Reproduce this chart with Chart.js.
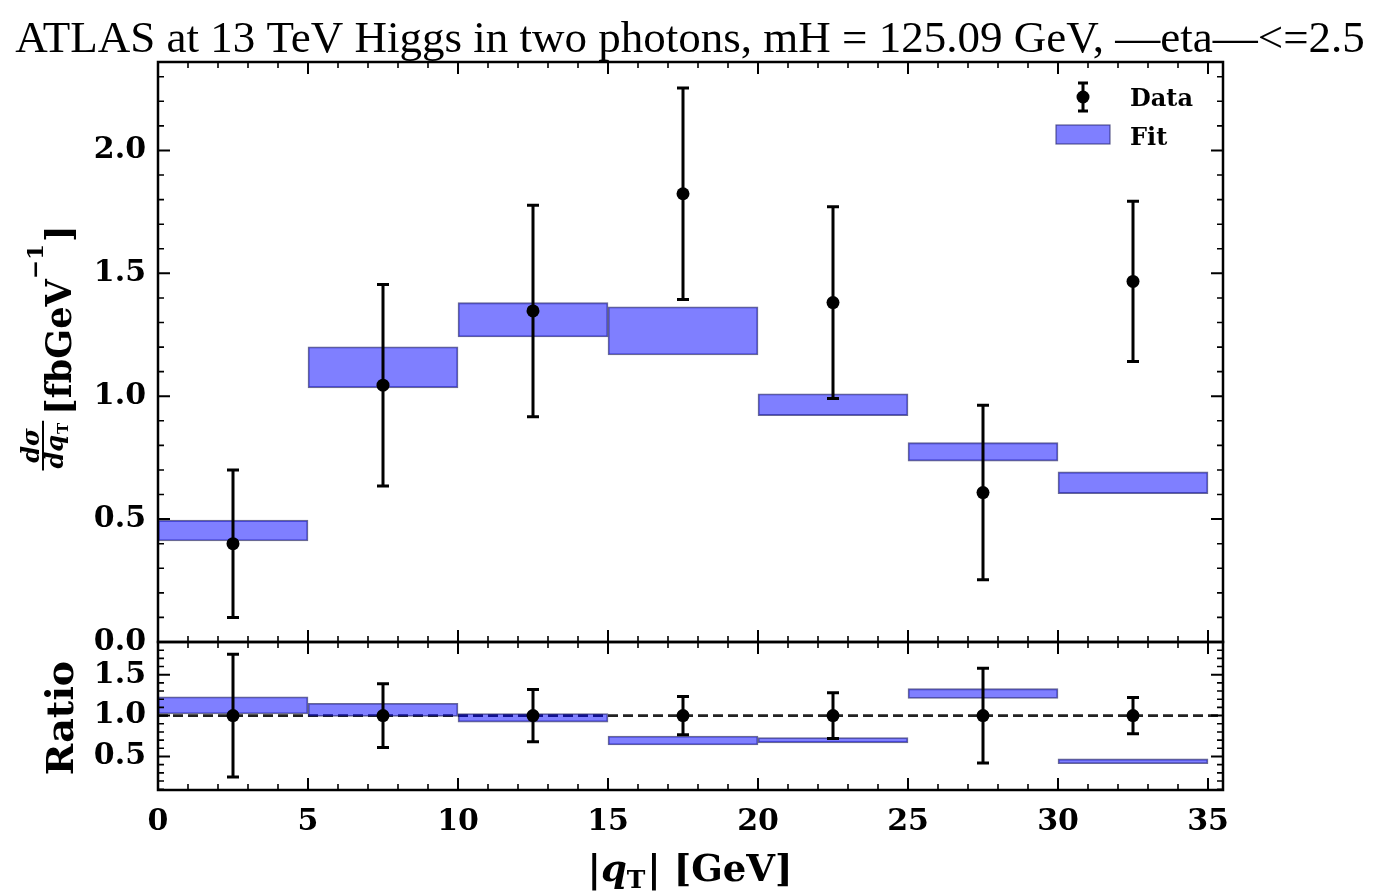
<!DOCTYPE html>
<html>
<head>
<meta charset="utf-8">
<script src="https://cdn.jsdelivr.net/npm/chart.js@4.4.1/dist/chart.umd.min.js"></script>
<style>
  html, body { margin: 0; padding: 0; background: #fff; }
  #wrap { width: 1378px; height: 893px; }
</style>
</head>
<body>
<div id="wrap"><canvas id="grafico" width="1378" height="893"></canvas></div>
<script>
// bins de q_T (GeV)
const binCenters = [2.5, 7.5, 12.5, 17.5, 22.5, 27.5, 32.5];

// dados medidos e erros
const dataValues = [0.40, 1.045, 1.347, 1.824, 1.381, 0.608, 1.467];
const dataErrors = [0.30, 0.41, 0.43, 0.43, 0.39, 0.355, 0.326];

// banda do ajuste (min / max) por bin
const fitLow  = [0.411, 1.034, 1.241, 1.168, 0.921, 0.736, 0.604];
const fitHigh = [0.496, 1.201, 1.381, 1.364, 1.010, 0.811, 0.692];

// painel de razão
const ratioValues  = [1, 1, 1, 1, 1, 1, 1];
const ratioErrors  = [0.75, 0.39, 0.32, 0.235, 0.28, 0.58, 0.222];
const ratioFitLow  = [1.02, 0.99, 0.92, 0.64, 0.667, 1.21, 0.412];
const ratioFitHigh = [1.23, 1.15, 1.025, 0.75, 0.732, 1.33, 0.471];

// ticks
const xTicks = [0, 5, 10, 15, 20, 25, 30, 35];
const yTicks = [0.0, 0.5, 1.0, 1.5, 2.0];
const ratioTicks = [0.5, 1.0, 1.5];

const fonteSerif = "'DejaVu Serif', serif";
const corBanda = 'rgba(0, 0, 255, 0.5)';
const corBorda = 'rgba(25, 25, 90, 0.65)';

function eixoY(extra, valores) {
  return Object.assign({
    type: 'linear',
    position: 'left',
    stack: 'paineis',
    grid: { display: false, drawTicks: false },
    border: { display: false },
    ticks: {
      color: '#000',
      font: { family: fonteSerif, weight: 'bold', size: 30 },
      padding: 12,
      callback: v => v.toFixed(1)
    },
    afterBuildTicks: s => { s.ticks = valores.map(v => ({ value: v })); },
    afterFit: s => { s.width = 158; }
  }, extra);
}

// barras de erro desenhadas antes dos pontos
const barrasErro = {
  id: 'barrasErro',
  beforeDatasetDraw(chart, args) {
    const ds = chart.data.datasets[args.index];
    if (!ds.erros) return;
    const ctx = chart.ctx;
    const xs = chart.scales.x;
    const ys = chart.scales[ds.yAxisID];
    ctx.save();
    ctx.strokeStyle = '#000';
    ctx.lineWidth = 3;
    ds.data.forEach((p, i) => {
      const px = xs.getPixelForValue(p.x);
      const top = ys.getPixelForValue(p.y + ds.erros[i]);
      const bot = ys.getPixelForValue(p.y - ds.erros[i]);
      ctx.beginPath();
      ctx.moveTo(px, top); ctx.lineTo(px, bot);
      ctx.moveTo(px - 6, top); ctx.lineTo(px + 6, top);
      ctx.moveTo(px - 6, bot); ctx.lineTo(px + 6, bot);
      ctx.stroke();
    });
    ctx.restore();
  }
};

// linha tracejada em 1 no painel de razão
const linhaUm = {
  id: 'linhaUm',
  beforeDatasetsDraw(chart) {
    const ctx = chart.ctx, a = chart.chartArea;
    const py = chart.scales.yRatio.getPixelForValue(1);
    ctx.save();
    ctx.strokeStyle = '#222';
    ctx.lineWidth = 2.6;
    ctx.setLineDash([10, 5]);
    ctx.beginPath();
    ctx.moveTo(a.left, py); ctx.lineTo(a.right, py);
    ctx.stroke();
    ctx.restore();
  }
};

function ticksPainel(ctx, chart, ys, maiores, menores) {
  const xs = chart.scales.x;
  const L = chart.chartArea.left, R = chart.chartArea.right;
  const T = ys.top, B = ys.bottom;
  ctx.strokeStyle = '#000';
  for (let v = 0; v <= 35; v++) {
    const major = v % 5 === 0;
    const len = major ? 12 : 6;
    const px = xs.getPixelForValue(v);
    ctx.lineWidth = major ? 2 : 1.6;
    ctx.beginPath();
    ctx.moveTo(px, B); ctx.lineTo(px, B - len);
    ctx.moveTo(px, T); ctx.lineTo(px, T + len);
    ctx.stroke();
  }
  const yLinha = (v, len, lw) => {
    const py = ys.getPixelForValue(v);
    ctx.lineWidth = lw;
    ctx.beginPath();
    ctx.moveTo(L, py); ctx.lineTo(L + len, py);
    ctx.moveTo(R, py); ctx.lineTo(R - len, py);
    ctx.stroke();
  };
  maiores.forEach(v => yLinha(v, 12, 2));
  menores.forEach(v => yLinha(v, 6, 1.6));
  ctx.lineWidth = 2.5;
  ctx.strokeRect(L, T, R - L, B - T);
}

// molduras, ticks para dentro, legenda e títulos
const decoracao = {
  id: 'decoracao',
  afterDraw(chart) {
    const ctx = chart.ctx;
    ctx.save();

    const menoresMain = [];
    for (let k = 1; k <= 23; k++) if (k % 5 !== 0) menoresMain.push(k / 10);
    const menoresRatio = [];
    for (let k = 1; k <= 18; k++) if (k % 5 !== 0) menoresRatio.push(k / 10);
    ticksPainel(ctx, chart, chart.scales.y, yTicks, menoresMain);
    ticksPainel(ctx, chart, chart.scales.yRatio, ratioTicks, menoresRatio);

    // título
    ctx.fillStyle = '#000';
    ctx.font = "45px 'Liberation Serif', serif";
    ctx.textAlign = 'center';
    ctx.textBaseline = 'alphabetic';
    ctx.fillText('ATLAS at 13 TeV Higgs in two photons, mH = 125.09 GeV, —eta—<=2.5', 690, 52);

    // legenda
    ctx.strokeStyle = '#000';
    ctx.lineWidth = 3;
    ctx.beginPath();
    ctx.moveTo(1083, 83); ctx.lineTo(1083, 111);
    ctx.moveTo(1078, 83); ctx.lineTo(1088, 83);
    ctx.moveTo(1078, 111); ctx.lineTo(1088, 111);
    ctx.stroke();
    ctx.beginPath();
    ctx.arc(1083, 97, 6.5, 0, Math.PI * 2);
    ctx.fill();
    ctx.fillStyle = corBanda;
    ctx.fillRect(1056, 125, 54, 19);
    ctx.strokeStyle = corBorda;
    ctx.lineWidth = 1.2;
    ctx.strokeRect(1056, 125, 54, 19);
    ctx.fillStyle = '#000';
    ctx.textAlign = 'left';
    ctx.font = `bold 24px ${fonteSerif}`;
    ctx.fillText('Data', 1130, 106);
    ctx.fillText('Fit', 1130, 145);

    // rótulo do eixo x: |q_T| [GeV]
    const fX = `bold 37px ${fonteSerif}`;
    const fQ = `italic bold 37px ${fonteSerif}`;
    const fT = `bold 25px ${fonteSerif}`;
    ctx.font = fX; const wBar = ctx.measureText('|').width;
    ctx.font = fQ; const wQ = ctx.measureText('q').width;
    ctx.font = fT; const wT = ctx.measureText('T').width;
    ctx.font = fX; const wRest = ctx.measureText('| [GeV]').width;
    let cx = 690 - (wBar + wQ + wT + 2 + wRest) / 2;
    ctx.font = fX; ctx.fillText('|', cx, 881); cx += wBar;
    ctx.font = fQ; ctx.fillText('q', cx, 881); cx += wQ;
    ctx.font = fT; ctx.fillText('T', cx, 888); cx += wT + 2;
    ctx.font = fX; ctx.fillText('| [GeV]', cx, 881);

    // rótulo "Ratio"
    ctx.save();
    ctx.translate(73, 718);
    ctx.rotate(-Math.PI / 2);
    ctx.textAlign = 'center';
    ctx.font = `bold 38px ${fonteSerif}`;
    ctx.fillText('Ratio', 0, 0);
    ctx.restore();

    // rótulo do eixo y: dσ/dq_T [fbGeV^-1]
    ctx.save();
    ctx.translate(71, 348);
    ctx.rotate(-Math.PI / 2);
    ctx.textAlign = 'left';
    const fN = `italic bold 24px ${fonteSerif}`;
    const fS = `bold 15px ${fonteSerif}`;
    const fM = `bold 35px ${fonteSerif}`;
    const fE = `bold 23px ${fonteSerif}`;
    ctx.font = fN; const wNum = ctx.measureText('dσ').width; const wD = ctx.measureText('dq').width;
    ctx.font = fS; const wSub = ctx.measureText('T').width;
    const wDen = wD + wSub + 1;
    const wFrac = Math.max(wNum, wDen) + 4;
    ctx.font = fM; const w1 = ctx.measureText('[fbGeV').width; const w3 = ctx.measureText(']').width;
    ctx.font = fE; const w2 = ctx.measureText('−1').width;
    const total = wFrac + 6 + w1 + w2 + 2 + w3;
    let x0 = -total / 2;
    ctx.font = fN;
    ctx.fillText('dσ', x0 + (wFrac - wNum) / 2, -32);
    ctx.fillRect(x0, -29, wFrac, 2);
    const xd = x0 + (wFrac - wDen) / 2;
    ctx.fillText('dq', xd, -8);
    ctx.font = fS; ctx.fillText('T', xd + wD + 1, -3);
    x0 += wFrac + 6;
    ctx.font = fM; ctx.fillText('[fbGeV', x0, 0); x0 += w1;
    ctx.font = fE; ctx.fillText('−1', x0, -28); x0 += w2 + 2;
    ctx.font = fM; ctx.fillText(']', x0, 0);
    ctx.restore();

    ctx.restore();
  }
};

const ctx = document.getElementById('grafico').getContext('2d');
new Chart(ctx, {
  data: {
    datasets: [
      {
        type: 'bar',
        label: 'Fit',
        yAxisID: 'y',
        data: binCenters.map((x, i) => ({ x: x, y: [fitLow[i], fitHigh[i]] })),
        backgroundColor: corBanda,
        borderColor: corBorda,
        borderWidth: 1.2,
        borderSkipped: false,
        grouped: false,
        barPercentage: 1,
        categoryPercentage: 1,
        order: 3
      },
      {
        type: 'scatter',
        label: 'Data',
        yAxisID: 'y',
        data: binCenters.map((x, i) => ({ x: x, y: dataValues[i] })),
        erros: dataErrors,
        pointRadius: 6.5,
        pointBackgroundColor: '#000',
        pointBorderWidth: 0,
        order: 1
      },
      {
        type: 'bar',
        label: 'Fit / Data',
        yAxisID: 'yRatio',
        data: binCenters.map((x, i) => ({ x: x, y: [ratioFitLow[i], ratioFitHigh[i]] })),
        backgroundColor: corBanda,
        borderColor: corBorda,
        borderWidth: 1.2,
        borderSkipped: false,
        grouped: false,
        barPercentage: 1,
        categoryPercentage: 1,
        order: 3
      },
      {
        type: 'scatter',
        label: 'Data / Data',
        yAxisID: 'yRatio',
        data: binCenters.map((x, i) => ({ x: x, y: ratioValues[i] })),
        erros: ratioErrors,
        pointRadius: 6.5,
        pointBackgroundColor: '#000',
        pointBorderWidth: 0,
        order: 1
      }
    ]
  },
  options: {
    responsive: false,
    animation: false,
    devicePixelRatio: 1,
    layout: { padding: { top: 62, right: 155, left: 0, bottom: 0 } },
    plugins: {
      legend: { display: false },
      tooltip: { enabled: false }
    },
    scales: {
      x: {
        type: 'linear',
        min: 0,
        max: 35.5,
        offset: false,
        position: 'bottom',
        grid: { display: false, drawTicks: false, offset: false },
        border: { display: false },
        ticks: {
          color: '#000',
          font: { family: fonteSerif, weight: 'bold', size: 30 },
          padding: 14,
          maxRotation: 0
        },
        afterBuildTicks: s => { s.ticks = xTicks.map(v => ({ value: v })); },
        afterFit: s => { s.height = 103; }
      },
      yRatio: eixoY({ min: 0.09, max: 1.9, stackWeight: 148, weight: 1 }, ratioTicks),
      y: eixoY({ min: 0, max: 2.36, stackWeight: 580, weight: 2 }, yTicks)
    }
  },
  plugins: [linhaUm, barrasErro, decoracao]
});
</script>
</body>
</html>
